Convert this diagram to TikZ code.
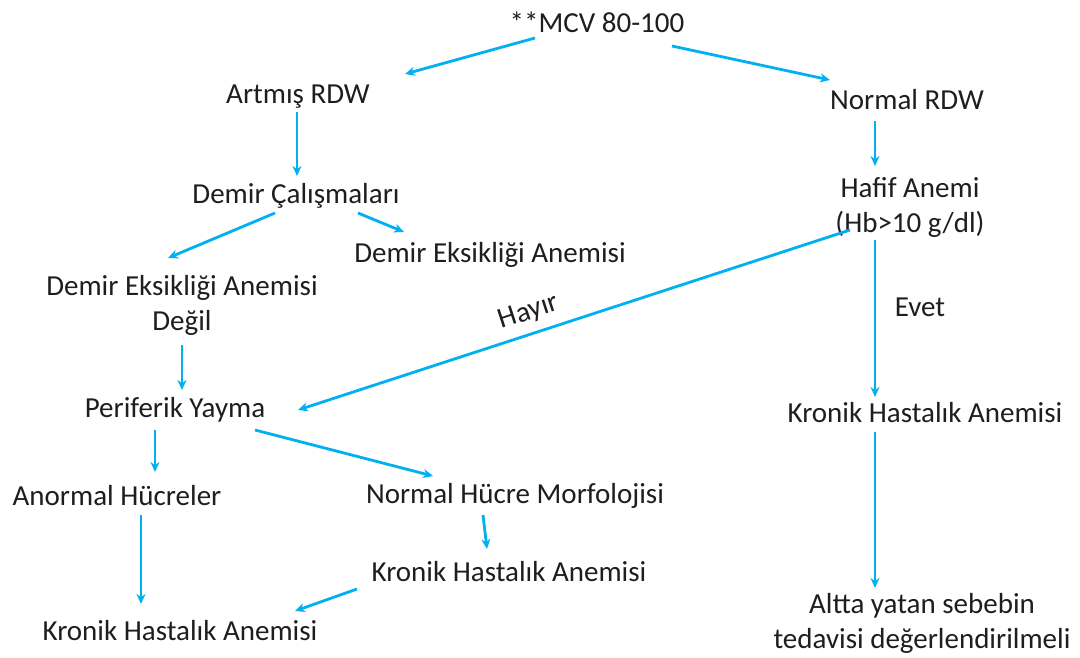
\documentclass[tikz,border=0pt]{standalone}
\usepackage{fontspec}
\setmainfont{Carlito}
\usetikzlibrary{arrows.meta}
\definecolor{okmavi}{RGB}{0,176,240}
\definecolor{yazi}{RGB}{30,30,30}
\tikzset{
  kutu/.style={inner sep=0pt,align=center,text=yazi},
  ok/.style={->,draw=okmavi,line width=2.8pt}
}
\begin{document}
\begin{tikzpicture}[>={Stealth[length=10pt,width=9pt]},x=1pt,y=-1pt,font=\fontsize{29}{35}\selectfont]
  \useasboundingbox[fill=white] (0,0) rectangle (1080,657);
  % dugumler
  \node[kutu] (mcv) at (597,22) {**MCV 80-100};
  \node[kutu] (artmis) at (298,97) {Artmış RDW};
  \node[kutu] (normrdw) at (907,100) {Normal RDW};
  \node[kutu] (hafif) at (910,207) {Hafif Anemi\\(Hb>10 g/dl)};
  \node[kutu] (demir) at (296,196) {Demir Çalışmaları};
  \node[kutu] (dea) at (490,255) {Demir Eksikliği Anemisi};
  \node[kutu] (degil) at (182,305) {Demir Eksikliği Anemisi\\Değil};
  \node[kutu] (periferik) at (175,410) {Periferik Yayma};
  \node[kutu] (anormal) at (117,496) {Anormal Hücreler};
  \node[kutu] (normhucre) at (515,496) {Normal Hücre Morfolojisi};
  \node[kutu] (kronikm) at (509,572) {Kronik Hastalık Anemisi};
  \node[kutu] (kronikbl) at (180,631) {Kronik Hastalık Anemisi};
  \node[kutu] (kronikr) at (925,413) {Kronik Hastalık Anemisi};
  \node[kutu] (altta) at (922,623) {Altta yatan sebebin\\tedavisi değerlendirilmeli};
  \node[kutu] (evet) at (920,307) {Evet};
  % oklar
  \draw[ok] ([shift={(-62,16)}]mcv.center) -- ([shift={(107,-23)}]artmis.center);
  \draw[ok] ([shift={(75,24)}]mcv.center) -- ([shift={(-77,-20)}]normrdw.center);
  \draw[ok] ([shift={(-1,15)}]artmis.center) -- ([shift={(1,-20)}]demir.center);
  \draw[ok] ([shift={(-32,21)}]normrdw.center) -- ([shift={(-35,-41)}]hafif.center);
  \draw[ok] ([shift={(-21,17)}]demir.center) -- ([shift={(-14,-47)}]degil.center);
  \draw[ok] ([shift={(62,17)}]demir.center) -- ([shift={(-86,-23)}]dea.center);
  \draw[ok] ([shift={(0,40)}]degil.center) -- ([shift={(7,-20)}]periferik.center);
  \draw[ok] ([shift={(-60,23)}]hafif.center) -- ([shift={(123,0)}]periferik.center)
    node[kutu,sloped,above=8pt,pos=0.57] (hayir) {Hayır};
  \draw[ok] ([shift={(-35,33)}]hafif.center) -- ([shift={(-50,-16)}]kronikr.center);
  \draw[ok] ([shift={(-20,20)}]periferik.center) -- ([shift={(38,-24)}]anormal.center);
  \draw[ok] ([shift={(80,20)}]periferik.center) -- ([shift={(-82,-20)}]normhucre.center);
  \draw[ok] ([shift={(24,19)}]anormal.center) -- ([shift={(-39,-27)}]kronikbl.center);
  \draw[ok] ([shift={(-32,19)}]normhucre.center) -- ([shift={(-22,-23)}]kronikm.center);
  \draw[ok] ([shift={(-152,17)}]kronikm.center) -- ([shift={(115,-20)}]kronikbl.center);
  \draw[ok] ([shift={(-50,19)}]kronikr.center) -- ([shift={(-47,-35)}]altta.center);
\end{tikzpicture}
\end{document}
